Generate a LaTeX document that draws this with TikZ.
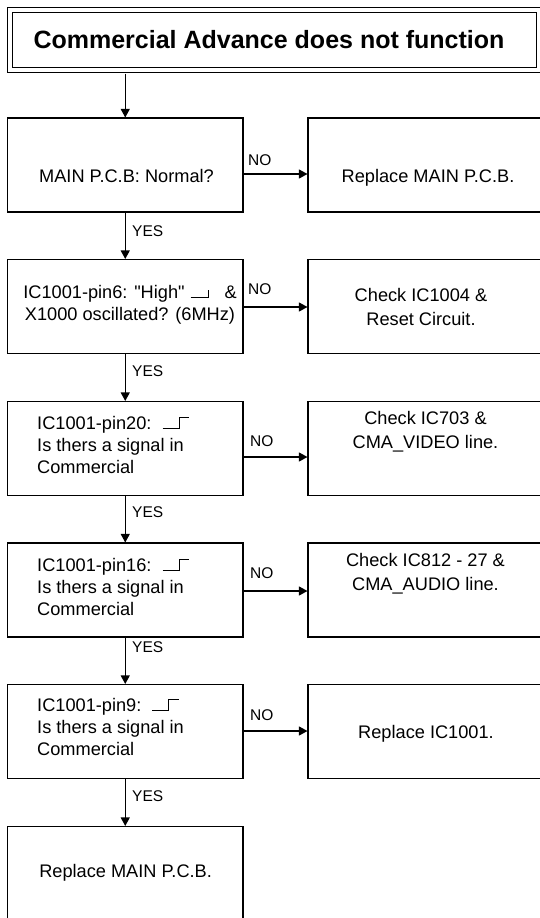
\documentclass[tikz,border=0pt]{standalone}
\usepackage{fontspec}
\setmainfont{Liberation Sans}[Ligatures=TeXOff]
\usetikzlibrary{arrows.meta}
\newcommand{\lowsig}{\rule{17pt}{0.9pt}\rule{0.9pt}{8.5pt}}
\newcommand{\risesig}{\rule{16pt}{0.9pt}\rule{0.9pt}{12pt}\raisebox{11.1pt}{\rule{10pt}{0.9pt}}}
\begin{document}
\begin{tikzpicture}[x=1pt,y=-1pt,
  lbox/.style={draw=black, line width=1.1pt, rectangle, inner sep=0pt, minimum width=235.5pt, minimum height=94pt},
  rbox/.style={draw=black, line width=1.1pt, rectangle, inner sep=0pt, minimum width=240pt, minimum height=94pt},
  titlebox/.style={draw=black, double=white, line width=0.9pt, double distance=4pt, rectangle, inner sep=0pt, minimum width=529.5pt, minimum height=60.25pt},
  titletext/.style={font=\fontsize{25}{28}\selectfont\bfseries, inner sep=0pt},
  txt/.style={font=\fontsize{18.2}{22}\selectfont, inner sep=0pt, anchor=base},
  rtxt/.style={font=\fontsize{18.2}{24}\selectfont, inner sep=0pt, anchor=base, align=center},
  lbl/.style={font=\fontsize{15.5}{18}\selectfont, inner sep=0pt, anchor=base west},
  arr/.style={line width=1.1pt, -{Triangle[length=8.5pt,width=9pt]}}]
\useasboundingbox (0,0) rectangle (539,918);
% title
\node[titlebox] (title) at (274.5,40.1) {};
\node[titletext] (tt) at (269,40) {Commercial Advance does not function};
% boxes
\node[lbox] (b1) at (125.25,165) {};
\node[rbox] (n1) at (428,165) {};
\node[lbox] (b2) at (125.25,306.5) {};
\node[rbox] (n2) at (428,306.5) {};
\node[lbox] (b3) at (125.25,448.5) {};
\node[rbox] (n3) at (428,448.5) {};
\node[lbox] (b4) at (125.25,590) {};
\node[rbox] (n4) at (428,590) {};
\node[lbox] (b5) at (125.25,731.5) {};
\node[rbox] (n5) at (428,731.5) {};
\node[lbox] (b6) at (125.25,873.5) {};
% texts (multi-line: base anchor = last line's baseline)
\node[txt] (t1) at (126.5,182) {MAIN P.C.B: Normal?};
\node[txt] (s1) at (428,182) {Replace MAIN P.C.B.};
\node[txt, align=center] (t2) at (130,320) {IC1001-pin6: "High"\hspace{6pt}\lowsig\hspace{16pt}\&\\X1000 oscillated? (6MHz)};
\node[rtxt] (s2) at (421,325.2) {Check IC1004 \&\\Reset Circuit.};
\node[txt, anchor=base west, align=left] (t3) at (37,473) {IC1001-pin20:\hspace{11pt}\risesig\\Is thers a signal in\\Commercial};
\node[rtxt] (s3) at (425.5,448) {Check IC703 \&\\CMA\_VIDEO line.};
\node[txt, anchor=base west, align=left] (t4) at (37,615) {IC1001-pin16:\hspace{11pt}\risesig\\Is thers a signal in\\Commercial};
\node[rtxt] (s4) at (425.5,590) {Check IC812 - 27 \&\\CMA\_AUDIO line.};
\node[txt, anchor=base west, align=left] (t5) at (37,755) {IC1001-pin9:\hspace{11pt}\risesig\\Is thers a signal in\\Commercial};
\node[txt] (s5) at (426,738) {Replace IC1001.};
\node[txt] (t6) at (125.6,877) {Replace MAIN P.C.B.};
% labels
\node[lbl] (no1) at (248,165) {NO};
\node[lbl] (no2) at (248,294) {NO};
\node[lbl] (no3) at (250,446) {NO};
\node[lbl] (no4) at (250,578) {NO};
\node[lbl] (no5) at (250,720) {NO};
\node[lbl] (yes1) at (132,236) {YES};
\node[lbl] (yes2) at (132,376.7) {YES};
\node[lbl] (yes3) at (132,517.5) {YES};
\node[lbl] (yes4) at (132,652) {YES};
\node[lbl] (yes5) at (132,801.7) {YES};
% connectors
\coordinate (tbot) at ([yshift=-2.9pt]title.south);
\draw[arr] (b1.north |- tbot) -- (b1.north);
\draw[arr] (b1.south) -- (b2.north);
\draw[arr] (b2.south) -- (b3.north);
\draw[arr] (b3.south) -- (b4.north);
\draw[arr] (b4.south) -- (b5.north);
\draw[arr] (b5.south) -- (b6.north);
\coordinate (r1) at (0,174);
\coordinate (r2) at (0,307);
\coordinate (r3) at (0,457);
\coordinate (r4) at (0,591);
\coordinate (r5) at (0,731);
\draw[arr] (b1.east |- r1) -- (n1.west |- r1);
\draw[arr] (b2.east |- r2) -- (n2.west |- r2);
\draw[arr] (b3.east |- r3) -- (n3.west |- r3);
\draw[arr] (b4.east |- r4) -- (n4.west |- r4);
\draw[arr] (b5.east |- r5) -- (n5.west |- r5);
\end{tikzpicture}
\end{document}
